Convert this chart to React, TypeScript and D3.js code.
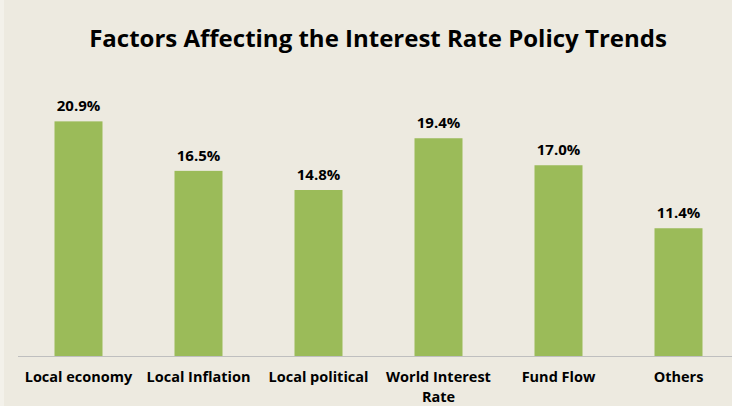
import React from "react";
import * as d3 from "d3";

const categories = ["Local economy", "Local Inflation", "Local political", "World Interest Rate", "Fund Flow", "Others"];
const categoryLines = [["Local economy"], ["Local Inflation"], ["Local political"], ["World Interest", "Rate"], ["Fund Flow"], ["Others"]];
const values = [20.9, 16.5, 14.8, 19.4, 17.0, 11.4];
const title = "Factors Affecting the Interest Rate Policy Trends";

const W = 732;
const H = 406;
const FONT = "'Open Sans', 'Noto Sans', sans-serif";

export default function App() {
  const x = d3.scaleBand<string>().domain(categories).range([18.5, 738.5]).paddingInner(0.6).paddingOuter(0.3);
  const y = d3.scaleLinear().domain([0, 25]).range([356.5, 75.25]);
  return (
    <svg width={W} height={H} style={{ position: "absolute", left: 0, top: 0, display: "block" }}>
      <rect x={0} y={0} width={W} height={H} fill="#EDEAE0" />
      <rect x={0} y={0} width={4} height={H} fill="#F3F1EA" />
      <text x={378} y={47} textAnchor="middle" fontFamily={FONT} fontWeight={700} fontSize={24} fill="#000">
        {title}
      </text>
      {categories.map((c, i) => (
        <g key={c}>
          <rect x={x(c)!} y={y(values[i])} width={x.bandwidth()} height={y(0) - y(values[i])} fill="#9BBB59" />
          <text x={x(c)! + x.bandwidth() / 2} y={y(values[i]) - 10} textAnchor="middle" fontFamily={FONT} fontWeight={700} fontSize={15} fill="#000">
            {values[i].toFixed(1) + "%"}
          </text>
          {categoryLines[i].map((ln, j) => (
            <text key={j} x={x(c)! + x.bandwidth() / 2} y={382 + j * 19.7} textAnchor="middle" fontFamily={FONT} fontWeight={700} fontSize={14.5} fill="#000">
              {ln}
            </text>
          ))}
        </g>
      ))}
      <line x1={18} x2={W} y1={356.5} y2={356.5} stroke="#BFBFBF" strokeWidth={1} />
    </svg>
  );
}
